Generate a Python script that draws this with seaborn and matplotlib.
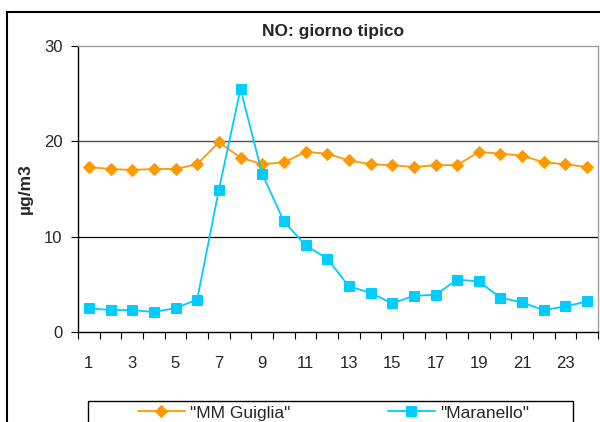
import numpy as np
import matplotlib.pyplot as plt
import matplotlib.patches as patches
import pandas as pd
import seaborn as sns

hours = list(range(1, 25))
mm_guiglia = [17.3, 17.1, 17.0, 17.1, 17.1, 17.6, 19.9, 18.3, 17.6, 17.8, 18.9, 18.7,
              18.0, 17.6, 17.5, 17.3, 17.5, 17.5, 18.9, 18.7, 18.5, 17.8, 17.6, 17.3]
maranello = [2.5, 2.3, 2.3, 2.1, 2.5, 3.4, 14.9, 25.5, 16.6, 11.6, 9.1, 7.7,
             4.8, 4.1, 3.0, 3.8, 3.9, 5.5, 5.3, 3.6, 3.1, 2.3, 2.7, 3.2]
series_names = ['"MM Guiglia"', '"Maranello"']
xtick_labels = [str(h) for h in range(1, 24, 2)]

df = pd.DataFrame({
    'ora': hours * 2,
    'valore': mm_guiglia + maranello,
    'serie': [series_names[0]] * 24 + [series_names[1]] * 24,
})

sns.set_style('white')
plt.rcParams['font.family'] = ['Liberation Sans', 'DejaVu Sans']

W, H = 600, 422
fig = plt.figure(figsize=(6, 4.22), dpi=100)
ax = fig.add_axes([78 / W, 1 - 332 / H, (598 - 78) / W, (332 - 46) / H])

colors = {series_names[0]: '#FF9900', series_names[1]: '#00CCFF'}
markers = {series_names[0]: 'D', series_names[1]: 's'}
sizes = {series_names[0]: 6.5, series_names[1]: 7}

for name in series_names:
    sub = df[df['serie'] == name]
    sns.lineplot(ax=ax, data=sub, x='ora', y='valore', color=colors[name],
                 marker=markers[name], markersize=sizes[name],
                 markeredgecolor=colors[name], linewidth=1.3, label=name,
                 legend=False)

ax.set_xlim(0.5, 24.5)
ax.set_ylim(0, 30)
ax.set_yticks([0, 10, 20, 30])
ax.set_xticks(range(1, 24, 2))
ax.set_xticklabels(xtick_labels)
ax.set_xticks(np.arange(0.5, 25, 1), minor=True)
ax.tick_params(axis='x', which='major', length=0, pad=17, labelsize=12)
ax.tick_params(axis='x', which='minor', length=5, width=0.8, color='black', direction='out', bottom=True)
ax.tick_params(axis='y', which='major', length=5, width=0.8, color='black', direction='out', left=True,
               labelsize=12, pad=6)

ax.axhline(10, color='black', linewidth=0.9, zorder=0)
ax.axhline(20, color='#505050', linewidth=1.0, zorder=0)

ax.spines['left'].set_color('black')
ax.spines['bottom'].set_color('black')
ax.spines['top'].set_color('#A0A0A0')
ax.spines['right'].set_color('#A0A0A0')
for s in ax.spines.values():
    s.set_linewidth(1)

ax.set_xlabel('')
ax.set_ylabel('µg/m3', fontsize=12.5, fontweight='bold', labelpad=8)
ax.set_title('NO: giorno tipico', fontsize=12.5, fontweight='bold', pad=7, x=0.49)

# outer chart border (cut off at the right and bottom)
fig.patches.append(patches.Rectangle((7 / W, -0.1), 1.0, 1 - 12 / H + 0.1,
                                     transform=fig.transFigure, fill=False,
                                     edgecolor='black', linewidth=1.5))
# legend frame
fig.patches.append(patches.Rectangle((88 / W, -0.1), (573 - 88) / W, 1 - 401 / H + 0.1,
                                     transform=fig.transFigure, fill=False,
                                     edgecolor='black', linewidth=1))

handles, labels = ax.get_legend_handles_labels()
fig.legend(handles, labels, loc='center left', bbox_to_anchor=(138 / W, 1 - 413 / H),
           ncol=2, frameon=False, fontsize=12.5, handlelength=2.7, handletextpad=0.3,
           columnspacing=5.6, borderpad=0, borderaxespad=0)

fig.savefig('out.png', dpi=100)
